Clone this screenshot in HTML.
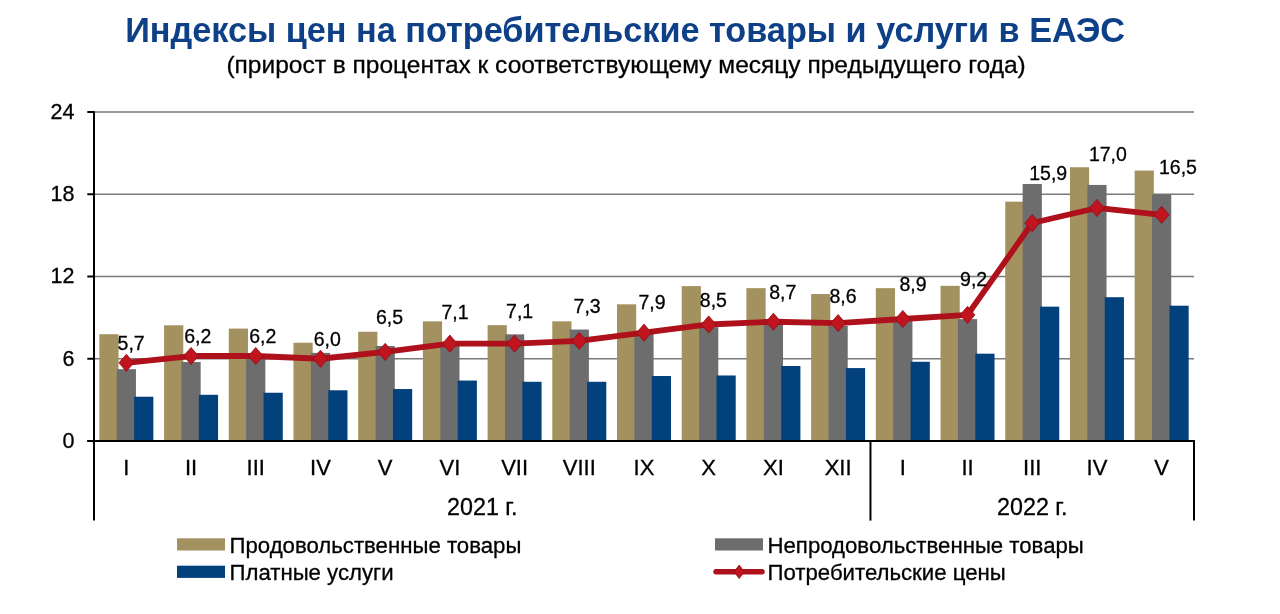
<!DOCTYPE html>
<html><head><meta charset="utf-8"><style>
html,body{margin:0;padding:0;background:#fff;width:1280px;height:614px;overflow:hidden}
svg{position:absolute;left:0;top:0;will-change:transform}
text{font-family:"Liberation Sans",sans-serif;fill:#000;stroke:#000;stroke-width:0.3px}
.dl{font-size:19.5px}
.yl{font-size:21.5px}
.ml{font-size:22px}
.yr{font-size:23.3px}
.ti{font-size:34.25px;font-weight:bold;fill:#0D4087;stroke:none}
.st{font-size:24.5px}
.lg{font-size:22.2px}
</style></head><body>
<svg width="1280" height="614" viewBox="0 0 1280 614">
<line x1="94.0" y1="358.75" x2="1194.0" y2="358.75" stroke="#7a7a7a" stroke-width="1.7"/>
<line x1="94.0" y1="276.50" x2="1194.0" y2="276.50" stroke="#7a7a7a" stroke-width="1.7"/>
<line x1="94.0" y1="194.25" x2="1194.0" y2="194.25" stroke="#7a7a7a" stroke-width="1.7"/>
<line x1="94.0" y1="112.00" x2="1194.0" y2="112.00" stroke="#7a7a7a" stroke-width="1.7"/>
<rect x="99.35" y="334.21" width="19.2" height="106.79" fill="#A3925F"/>
<rect x="116.75" y="369.17" width="19.2" height="71.83" fill="#6D6D6E"/>
<rect x="134.15" y="396.72" width="19.2" height="44.28" fill="#03417C"/>
<rect x="164.06" y="325.30" width="19.2" height="115.70" fill="#A3925F"/>
<rect x="181.46" y="362.04" width="19.2" height="78.96" fill="#6D6D6E"/>
<rect x="198.86" y="394.80" width="19.2" height="46.20" fill="#03417C"/>
<rect x="228.76" y="328.59" width="19.2" height="112.41" fill="#A3925F"/>
<rect x="246.16" y="358.75" width="19.2" height="82.25" fill="#6D6D6E"/>
<rect x="263.56" y="392.75" width="19.2" height="48.25" fill="#03417C"/>
<rect x="293.47" y="342.71" width="19.2" height="98.29" fill="#A3925F"/>
<rect x="310.87" y="352.86" width="19.2" height="88.14" fill="#6D6D6E"/>
<rect x="328.27" y="390.28" width="19.2" height="50.72" fill="#03417C"/>
<rect x="358.18" y="331.74" width="19.2" height="109.26" fill="#A3925F"/>
<rect x="375.58" y="346.00" width="19.2" height="95.00" fill="#6D6D6E"/>
<rect x="392.98" y="389.05" width="19.2" height="51.95" fill="#03417C"/>
<rect x="422.88" y="321.33" width="19.2" height="119.67" fill="#A3925F"/>
<rect x="440.28" y="345.04" width="19.2" height="95.96" fill="#6D6D6E"/>
<rect x="457.68" y="380.55" width="19.2" height="60.45" fill="#03417C"/>
<rect x="487.59" y="325.16" width="19.2" height="115.84" fill="#A3925F"/>
<rect x="504.99" y="334.35" width="19.2" height="106.65" fill="#6D6D6E"/>
<rect x="522.39" y="381.78" width="19.2" height="59.22" fill="#03417C"/>
<rect x="552.29" y="321.33" width="19.2" height="119.67" fill="#A3925F"/>
<rect x="569.69" y="329.55" width="19.2" height="111.45" fill="#6D6D6E"/>
<rect x="587.09" y="381.78" width="19.2" height="59.22" fill="#03417C"/>
<rect x="617.00" y="304.33" width="19.2" height="136.67" fill="#A3925F"/>
<rect x="634.40" y="332.70" width="19.2" height="108.30" fill="#6D6D6E"/>
<rect x="651.80" y="376.02" width="19.2" height="64.98" fill="#03417C"/>
<rect x="681.71" y="286.10" width="19.2" height="154.90" fill="#A3925F"/>
<rect x="699.11" y="327.22" width="19.2" height="113.78" fill="#6D6D6E"/>
<rect x="716.51" y="375.47" width="19.2" height="65.53" fill="#03417C"/>
<rect x="746.41" y="288.15" width="19.2" height="152.85" fill="#A3925F"/>
<rect x="763.81" y="324.48" width="19.2" height="116.52" fill="#6D6D6E"/>
<rect x="781.21" y="366.02" width="19.2" height="74.98" fill="#03417C"/>
<rect x="811.12" y="294.05" width="19.2" height="146.95" fill="#A3925F"/>
<rect x="828.52" y="325.85" width="19.2" height="115.15" fill="#6D6D6E"/>
<rect x="845.92" y="368.07" width="19.2" height="72.93" fill="#03417C"/>
<rect x="875.82" y="288.15" width="19.2" height="152.85" fill="#A3925F"/>
<rect x="893.22" y="320.37" width="19.2" height="120.63" fill="#6D6D6E"/>
<rect x="910.62" y="361.77" width="19.2" height="79.23" fill="#03417C"/>
<rect x="940.53" y="285.82" width="19.2" height="155.18" fill="#A3925F"/>
<rect x="957.93" y="319.13" width="19.2" height="121.87" fill="#6D6D6E"/>
<rect x="975.33" y="353.68" width="19.2" height="87.32" fill="#03417C"/>
<rect x="1005.24" y="201.65" width="19.2" height="239.35" fill="#A3925F"/>
<rect x="1022.64" y="183.97" width="19.2" height="257.03" fill="#6D6D6E"/>
<rect x="1040.04" y="306.66" width="19.2" height="134.34" fill="#03417C"/>
<rect x="1069.94" y="167.24" width="19.2" height="273.76" fill="#A3925F"/>
<rect x="1087.34" y="184.93" width="19.2" height="256.07" fill="#6D6D6E"/>
<rect x="1104.74" y="297.20" width="19.2" height="143.80" fill="#03417C"/>
<rect x="1134.65" y="170.53" width="19.2" height="270.47" fill="#A3925F"/>
<rect x="1152.05" y="194.25" width="19.2" height="246.75" fill="#6D6D6E"/>
<rect x="1169.45" y="305.70" width="19.2" height="135.30" fill="#03417C"/>
<line x1="94.0" y1="111.2" x2="94.0" y2="520.6" stroke="#000" stroke-width="2"/>
<line x1="87.3" y1="441.00" x2="94.0" y2="441.00" stroke="#000" stroke-width="2"/>
<line x1="87.3" y1="358.75" x2="94.0" y2="358.75" stroke="#000" stroke-width="2"/>
<line x1="87.3" y1="276.50" x2="94.0" y2="276.50" stroke="#000" stroke-width="2"/>
<line x1="87.3" y1="194.25" x2="94.0" y2="194.25" stroke="#000" stroke-width="2"/>
<line x1="87.3" y1="112.00" x2="94.0" y2="112.00" stroke="#000" stroke-width="2"/>
<line x1="87.3" y1="441.0" x2="1195.0" y2="441.0" stroke="#000" stroke-width="2"/>
<line x1="870.47" y1="441.0" x2="870.47" y2="520.6" stroke="#000" stroke-width="2"/>
<line x1="1194.0" y1="440.0" x2="1194.0" y2="520.6" stroke="#000" stroke-width="2"/>
<polyline points="126.35,362.86 191.06,356.01 255.76,356.01 320.47,358.75 385.18,351.90 449.88,343.67 514.59,343.67 579.29,340.93 644.00,332.70 708.71,324.48 773.41,321.74 838.12,323.11 902.82,319.00 967.53,314.88 1032.24,223.04 1096.94,207.96 1161.65,214.81" fill="none" stroke="#AE111B" stroke-width="5.8" stroke-linejoin="round"/>
<path d="M126.35 354.26L133.75 362.86L126.35 371.46L118.95 362.86Z" fill="#C0141E" stroke="#8E0E14" stroke-width="0.8"/>
<path d="M191.06 347.41L198.46 356.01L191.06 364.61L183.66 356.01Z" fill="#C0141E" stroke="#8E0E14" stroke-width="0.8"/>
<path d="M255.76 347.41L263.16 356.01L255.76 364.61L248.36 356.01Z" fill="#C0141E" stroke="#8E0E14" stroke-width="0.8"/>
<path d="M320.47 350.15L327.87 358.75L320.47 367.35L313.07 358.75Z" fill="#C0141E" stroke="#8E0E14" stroke-width="0.8"/>
<path d="M385.18 343.30L392.58 351.90L385.18 360.50L377.78 351.90Z" fill="#C0141E" stroke="#8E0E14" stroke-width="0.8"/>
<path d="M449.88 335.07L457.28 343.67L449.88 352.27L442.48 343.67Z" fill="#C0141E" stroke="#8E0E14" stroke-width="0.8"/>
<path d="M514.59 335.07L521.99 343.67L514.59 352.27L507.19 343.67Z" fill="#C0141E" stroke="#8E0E14" stroke-width="0.8"/>
<path d="M579.29 332.33L586.69 340.93L579.29 349.53L571.89 340.93Z" fill="#C0141E" stroke="#8E0E14" stroke-width="0.8"/>
<path d="M644.00 324.10L651.40 332.70L644.00 341.30L636.60 332.70Z" fill="#C0141E" stroke="#8E0E14" stroke-width="0.8"/>
<path d="M708.71 315.88L716.11 324.48L708.71 333.08L701.31 324.48Z" fill="#C0141E" stroke="#8E0E14" stroke-width="0.8"/>
<path d="M773.41 313.14L780.81 321.74L773.41 330.34L766.01 321.74Z" fill="#C0141E" stroke="#8E0E14" stroke-width="0.8"/>
<path d="M838.12 314.51L845.52 323.11L838.12 331.71L830.72 323.11Z" fill="#C0141E" stroke="#8E0E14" stroke-width="0.8"/>
<path d="M902.82 310.40L910.22 319.00L902.82 327.60L895.42 319.00Z" fill="#C0141E" stroke="#8E0E14" stroke-width="0.8"/>
<path d="M967.53 306.28L974.93 314.88L967.53 323.48L960.13 314.88Z" fill="#C0141E" stroke="#8E0E14" stroke-width="0.8"/>
<path d="M1032.24 214.44L1039.64 223.04L1032.24 231.64L1024.84 223.04Z" fill="#C0141E" stroke="#8E0E14" stroke-width="0.8"/>
<path d="M1096.94 199.36L1104.34 207.96L1096.94 216.56L1089.54 207.96Z" fill="#C0141E" stroke="#8E0E14" stroke-width="0.8"/>
<path d="M1161.65 206.21L1169.05 214.81L1161.65 223.41L1154.25 214.81Z" fill="#C0141E" stroke="#8E0E14" stroke-width="0.8"/>
<text x="117.60" y="349.80" class="dl">5,7</text>
<text x="184.20" y="343.00" class="dl">6,2</text>
<text x="249.20" y="343.00" class="dl">6,2</text>
<text x="313.70" y="346.00" class="dl">6,0</text>
<text x="375.90" y="324.10" class="dl">6,5</text>
<text x="441.50" y="318.60" class="dl">7,1</text>
<text x="506.10" y="318.00" class="dl">7,1</text>
<text x="573.60" y="313.30" class="dl">7,3</text>
<text x="638.40" y="309.40" class="dl">7,9</text>
<text x="699.80" y="306.75" class="dl">8,5</text>
<text x="769.20" y="299.10" class="dl">8,7</text>
<text x="829.50" y="303.00" class="dl">8,6</text>
<text x="899.40" y="291.20" class="dl">8,9</text>
<text x="960.10" y="286.00" class="dl">9,2</text>
<text x="1029.20" y="180.00" class="dl">15,9</text>
<text x="1088.90" y="160.50" class="dl">17,0</text>
<text x="1159.00" y="174.40" class="dl">16,5</text>
<text x="74.5" y="447.80" class="yl" text-anchor="end">0</text>
<text x="74.5" y="365.55" class="yl" text-anchor="end">6</text>
<text x="74.5" y="283.30" class="yl" text-anchor="end">12</text>
<text x="74.5" y="201.05" class="yl" text-anchor="end">18</text>
<text x="74.5" y="118.80" class="yl" text-anchor="end">24</text>
<text x="126.35" y="475" class="ml" text-anchor="middle">I</text>
<text x="191.06" y="475" class="ml" text-anchor="middle">II</text>
<text x="255.76" y="475" class="ml" text-anchor="middle">III</text>
<text x="320.47" y="475" class="ml" text-anchor="middle">IV</text>
<text x="385.18" y="475" class="ml" text-anchor="middle">V</text>
<text x="449.88" y="475" class="ml" text-anchor="middle">VI</text>
<text x="514.59" y="475" class="ml" text-anchor="middle">VII</text>
<text x="579.29" y="475" class="ml" text-anchor="middle">VIII</text>
<text x="644.00" y="475" class="ml" text-anchor="middle">IX</text>
<text x="708.71" y="475" class="ml" text-anchor="middle">X</text>
<text x="773.41" y="475" class="ml" text-anchor="middle">XI</text>
<text x="838.12" y="475" class="ml" text-anchor="middle">XII</text>
<text x="902.82" y="475" class="ml" text-anchor="middle">I</text>
<text x="967.53" y="475" class="ml" text-anchor="middle">II</text>
<text x="1032.24" y="475" class="ml" text-anchor="middle">III</text>
<text x="1096.94" y="475" class="ml" text-anchor="middle">IV</text>
<text x="1161.65" y="475" class="ml" text-anchor="middle">V</text>
<text x="482.24" y="515" class="yr" text-anchor="middle">2021 г.</text>
<text x="1032.24" y="515" class="yr" text-anchor="middle">2022 г.</text>
<text x="625.1" y="42" class="ti" text-anchor="middle">Индексы цен на потребительские товары и услуги в ЕАЭС</text>
<text x="626.1" y="72.5" class="st" text-anchor="middle">(прирост в процентах к соответствующему месяцу предыдущего года)</text>
<rect x="177" y="538.3" width="48" height="12.2" fill="#A3925F"/>
<rect x="177" y="565.7" width="48" height="12.2" fill="#03417C"/>
<text x="229.5" y="552.7" class="lg">Продовольственные товары</text>
<text x="229.5" y="580" class="lg">Платные услуги</text>
<rect x="715" y="538.3" width="48" height="12.2" fill="#6D6D6E"/>
<line x1="716" y1="571.8" x2="762" y2="571.8" stroke="#AE111B" stroke-width="5.5" stroke-linecap="round"/>
<path d="M739.2 565.0L744.3 571.8L739.2 578.6L734.1 571.8Z" fill="#C0141E" stroke="#8E0E14" stroke-width="0.8"/>
<text x="767.5" y="552.7" class="lg">Непродовольственные товары</text>
<text x="767.5" y="580" class="lg">Потребительские цены</text>
</svg>
</body></html>
